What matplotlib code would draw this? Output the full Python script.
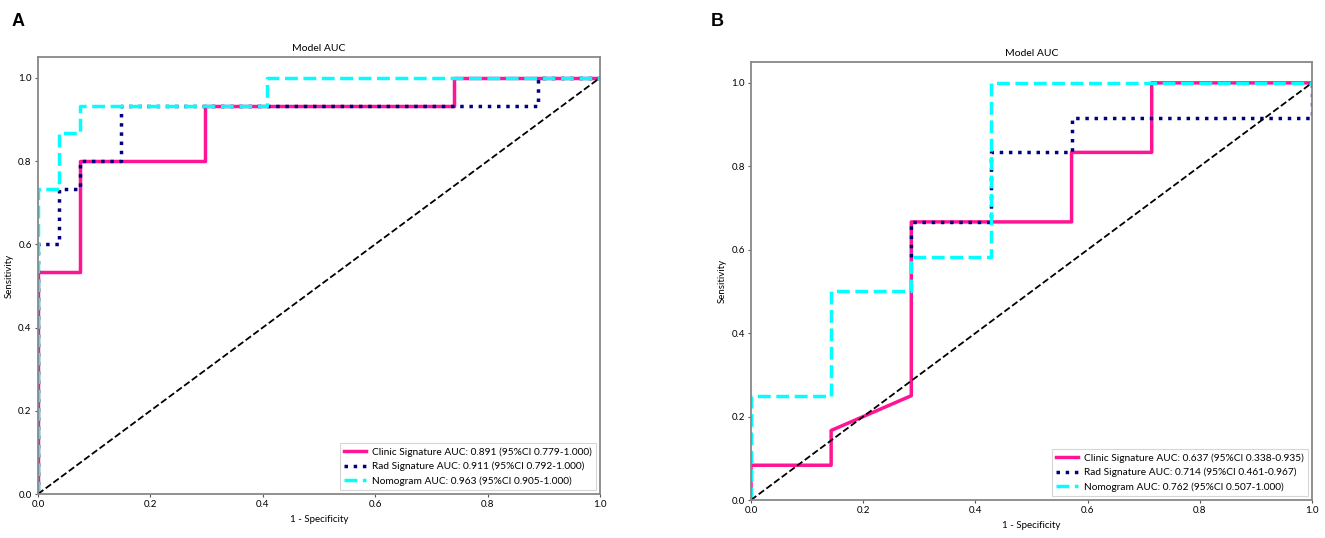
import numpy as np
import matplotlib
matplotlib.use("Agg")
import matplotlib.pyplot as plt

plt.rcParams['font.family'] = ['Lato', 'DejaVu Sans']

# ---------------- Data ----------------
# Panel A (27 negatives, 15 positives)
a_clinic_fpr = [0, 0, 2/27, 2/27, 8/27, 8/27, 20/27, 20/27, 1]
a_clinic_tpr = [0, 8/15, 8/15, 12/15, 12/15, 14/15, 14/15, 1, 1]
a_rad_fpr = [0, 0, 1/27, 1/27, 2/27, 2/27, 4/27, 4/27, 24/27, 24/27, 1]
a_rad_tpr = [0, 9/15, 9/15, 11/15, 11/15, 12/15, 12/15, 14/15, 14/15, 1, 1]
a_nomo_fpr = [0, 0, 1/27, 1/27, 2/27, 2/27, 11/27, 11/27, 1]
a_nomo_tpr = [0, 11/15, 11/15, 13/15, 13/15, 14/15, 14/15, 1, 1]
a_labels = ["Clinic Signature AUC: 0.891 (95%CI 0.779-1.000)",
            "Rad Signature AUC: 0.911 (95%CI 0.792-1.000)",
            "Nomogram AUC: 0.963 (95%CI 0.905-1.000)"]

# Panel B (7 negatives, 12 positives)
b_clinic_fpr = [0, 0, 1/7, 1/7, 2/7, 2/7, 4/7, 4/7, 5/7, 5/7, 1]
b_clinic_tpr = [0, 1/12, 1/12, 2/12, 3/12, 8/12, 8/12, 10/12, 10/12, 1, 1]
b_rad_fpr = [2/7, 2/7, 3/7, 3/7, 4/7, 4/7, 1, 1]
b_rad_tpr = [7/12, 8/12, 8/12, 10/12, 10/12, 11/12, 11/12, 1]
b_nomo_fpr = [0, 0, 1/7, 1/7, 2/7, 2/7, 3/7, 3/7, 1]
b_nomo_tpr = [0, 3/12, 3/12, 6/12, 6/12, 7/12, 7/12, 1, 1]
b_labels = ["Clinic Signature AUC: 0.637 (95%CI 0.338-0.935)",
            "Rad Signature AUC: 0.714 (95%CI 0.461-0.967)",
            "Nomogram AUC: 0.762 (95%CI 0.507-1.000)"]

ticks = [0.0, 0.2, 0.4, 0.6, 0.8, 1.0]
tick_labels = ["0.0", "0.2", "0.4", "0.6", "0.8", "1.0"]

fig = plt.figure(figsize=(13.25, 5.38), dpi=100)

def draw(ax, clin, rad, nomo, labels):
    ax.plot(clin[0], clin[1], color='#ff1493', lw=2.5, ls='-', label=labels[0])
    ax.plot(rad[0], rad[1], color='navy', lw=2.5, ls=':', label=labels[1])
    ax.plot(nomo[0], nomo[1], color='aqua', lw=2.5, ls='--', label=labels[2])
    ax.plot([0, 1], [0, 1], 'k--', lw=1.3)
    ax.set_xlim(0, 1)
    ax.set_ylim(0, 1.05)
    ax.set_xticks(ticks)
    ax.set_xticklabels(tick_labels)
    ax.set_yticks(ticks)
    ax.set_yticklabels(tick_labels)
    ax.tick_params(labelsize=7, length=2.5, width=0.8, color='#555555', pad=2)
    for s in ax.spines.values():
        s.set_color('#888888')
        s.set_linewidth(1.3)
    ax.set_title("Model AUC", fontsize=7.5, pad=4)
    ax.set_xlabel("1 - Specificity", fontsize=7, labelpad=4)
    ax.set_ylabel("Sensitivity", fontsize=7, labelpad=3)
    leg = ax.legend(loc='lower right', fontsize=7.3, frameon=True, fancybox=False,
                    edgecolor='#cccccc', handlelength=2.2, handletextpad=0.6,
                    borderaxespad=0.4, labelspacing=0.5)
    leg.get_frame().set_linewidth(0.8)

axA = fig.add_axes([38/1325, 44/538, 562/1325, 437/538])
draw(axA, (a_clinic_fpr, a_clinic_tpr), (a_rad_fpr, a_rad_tpr),
     (a_nomo_fpr, a_nomo_tpr), a_labels)

axB = fig.add_axes([751/1325, 38/538, 561/1325, 438/538])
draw(axB, (b_clinic_fpr, b_clinic_tpr), (b_rad_fpr, b_rad_tpr),
     (b_nomo_fpr, b_nomo_tpr), b_labels)

fig.text(12/1325, 1 - 22/538, "A", fontsize=13, fontweight='bold',
         family='Liberation Sans', va='center', ha='left')
fig.text(711/1325, 1 - 22/538, "B", fontsize=13, fontweight='bold',
         family='Liberation Sans', va='center', ha='left')

fig.savefig("out.png", dpi=100)
